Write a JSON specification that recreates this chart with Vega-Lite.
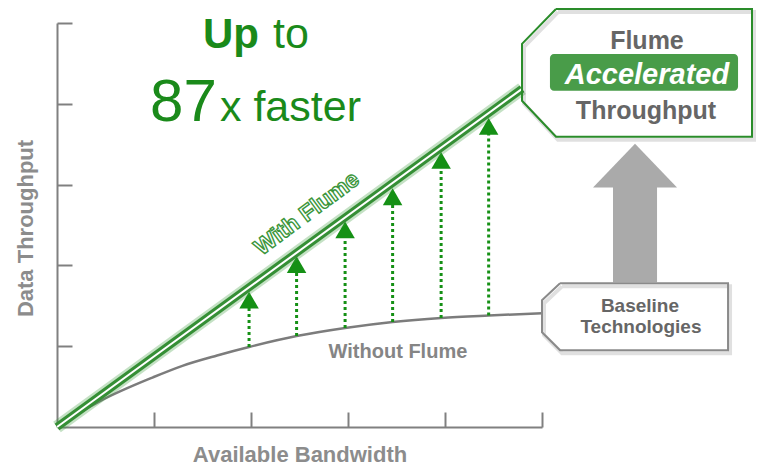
{
  "$schema": "https://vega.github.io/schema/vega-lite/v6.json",
  "width": 485,
  "height": 404,
  "autosize": {"type": "none"},
  "padding": {"left": 57, "top": 23, "right": 216, "bottom": 39},
  "background": "white",
  "datasets": {
    "curve": [
      {"x": 0, "y": 0}, {"x": 0.237, "y": 0.18}, {"x": 0.443, "y": 0.32}, {"x": 0.99, "y": 0.615},
      {"x": 1.3, "y": 0.76}, {"x": 1.65, "y": 0.885}, {"x": 1.98, "y": 0.99}, {"x": 2.47, "y": 1.125},
      {"x": 2.97, "y": 1.225}, {"x": 3.46, "y": 1.3}, {"x": 3.96, "y": 1.35}, {"x": 4.45, "y": 1.38},
      {"x": 5.0, "y": 1.407}
    ],
    "flume": [{"x": 0, "y": 0}, {"x": 4.794, "y": 4.185}],
    "drops": [
      {"x": 1.98, "y": 0.99, "y2": 1.48},
      {"x": 2.47, "y": 1.125, "y2": 1.93},
      {"x": 2.97, "y": 1.225, "y2": 2.37},
      {"x": 3.46, "y": 1.3, "y2": 2.78},
      {"x": 3.96, "y": 1.35, "y2": 3.21},
      {"x": 4.45, "y": 1.38, "y2": 3.64}
    ],
    "tips": [
      {"x": 1.98, "y": 1.57}, {"x": 2.47, "y": 2.01}, {"x": 2.97, "y": 2.44},
      {"x": 3.46, "y": 2.85}, {"x": 3.96, "y": 3.3}, {"x": 4.45, "y": 3.72}
    ],
    "boxA": [
      {"i": 0, "x": 5.144, "y": 5.173}, {"i": 1, "x": 7.165, "y": 5.173}, {"i": 2, "x": 7.165, "y": 3.593},
      {"i": 3, "x": 5.144, "y": 3.593}, {"i": 4, "x": 4.794, "y": 4.037}, {"i": 5, "x": 4.794, "y": 4.741},
      {"i": 6, "x": 5.144, "y": 5.173}
    ],
    "boxB": [
      {"i": 0, "x": 5.186, "y": 1.778}, {"i": 1, "x": 6.918, "y": 1.778}, {"i": 2, "x": 6.918, "y": 0.951},
      {"i": 3, "x": 5.186, "y": 0.951}, {"i": 4, "x": 5.0, "y": 1.173}, {"i": 5, "x": 5.0, "y": 1.568},
      {"i": 6, "x": 5.186, "y": 1.778}
    ],
    "shaft": [{"x": 5.732, "x2": 6.186, "y": 2.99, "y2": 1.79}],
    "head": [
      {"x": 5.526, "y": 2.963, "y2": 2.963},
      {"x": 5.959, "y": 3.506, "y2": 2.963},
      {"x": 6.392, "y": 2.963, "y2": 2.963}
    ],
    "hl": [{"x": 5.082, "x2": 7.021, "y": 4.617, "y2": 4.16}],
    "texts": [
      {"g": "up", "x": 1.505, "y": 4.691, "t": "Up"},
      {"g": "reg", "x": 2.227, "y": 4.691, "t": "to"},
      {"g": "big", "x": 0.959, "y": 3.79, "t": "87"},
      {"g": "reg", "x": 1.68, "y": 3.79, "t": "x faster"},
      {"g": "with", "x": 2.577, "y": 2.642, "t": "With Flume"},
      {"g": "without", "x": 3.515, "y": 0.852, "t": "Without Flume"},
      {"g": "boxa", "x": 6.082, "y": 4.679, "t": "Flume"},
      {"g": "boxa", "x": 6.072, "y": 3.815, "t": "Throughput"},
      {"g": "acc", "x": 6.082, "y": 4.247, "t": "Accelerated"},
      {"g": "boxb", "x": 6.01, "y": 1.42, "t": "Baseline"},
      {"g": "boxb", "x": 6.02, "y": 1.16, "t": "Technologies"}
    ]
  },
  "encoding": {
    "x": {"field": "x", "type": "quantitative", "scale": {"domain": [0, 5], "nice": false, "zero": false}},
    "y": {"field": "y", "type": "quantitative", "scale": {"domain": [0, 5], "nice": false, "zero": false}}
  },
  "layer": [
    {
      "data": {"name": "curve"},
      "mark": {"type": "line", "color": "#7c7c7c", "strokeWidth": 2.5, "interpolate": "monotone"},
      "encoding": {
        "x": {"field": "x", "type": "quantitative", "axis": {
          "title": "Available Bandwidth", "values": [1, 2, 3, 4, 5], "labels": false, "grid": false,
          "domainColor": "#808080", "domainWidth": 2, "tickColor": "#808080", "tickWidth": 2, "tickSize": -15,
          "titleFontSize": 22, "titleFontWeight": "bold", "titleColor": "#8c8c8c", "titleY": 34, "titleBaseline": "alphabetic"
        }},
        "y": {"field": "y", "type": "quantitative", "axis": {
          "title": "Data Throughput", "values": [1, 2, 3, 4, 5], "labels": false, "grid": false,
          "domainColor": "#808080", "domainWidth": 2, "tickColor": "#808080", "tickWidth": 2, "tickSize": -15,
          "titleFontSize": 22, "titleFontWeight": "bold", "titleColor": "#8c8c8c", "titleX": -25, "titleY": 205,
          "titleAngle": -90, "titleBaseline": "alphabetic"
        }}
      }
    },
    {
      "data": {"name": "drops"},
      "mark": {"type": "rule", "color": "#159015", "strokeWidth": 3, "strokeDash": [3, 3]},
      "encoding": {"y2": {"field": "y2"}}
    },
    {
      "data": {"name": "tips"},
      "mark": {"type": "point", "shape": "triangle-up", "filled": true, "size": 380, "color": "#159015", "opacity": 1}
    },
    {
      "data": {"name": "flume"},
      "mark": {"type": "line", "color": "#3c9a3c", "strokeWidth": 13, "opacity": 0.3}
    },
    {
      "data": {"name": "flume"},
      "mark": {"type": "line", "color": "#358f35", "strokeWidth": 8}
    },
    {
      "data": {"name": "flume"},
      "mark": {"type": "line", "color": "white", "strokeWidth": 2}
    },
    {
      "data": {"name": "shaft"},
      "mark": {"type": "rect", "color": "#aaaaaa"},
      "encoding": {"x2": {"field": "x2"}, "y2": {"field": "y2"}}
    },
    {
      "data": {"name": "head"},
      "mark": {"type": "area", "color": "#aaaaaa", "interpolate": "linear", "orient": "vertical"},
      "encoding": {"y2": {"field": "y2"}}
    },
    {
      "data": {"name": "boxA"},
      "mark": {"type": "line", "color": "#000000", "strokeWidth": 4, "opacity": 0.12, "xOffset": 2, "yOffset": 3},
      "encoding": {"order": {"field": "i"}}
    },
    {
      "data": {"name": "boxB"},
      "mark": {"type": "line", "color": "#000000", "strokeWidth": 4, "opacity": 0.12, "xOffset": 2, "yOffset": 3},
      "encoding": {"order": {"field": "i"}}
    },
    {
      "data": {"name": "boxA"},
      "mark": {"type": "line", "color": "#2a8c2a", "strokeWidth": 2},
      "encoding": {"order": {"field": "i"}}
    },
    {
      "data": {"name": "boxB"},
      "mark": {"type": "line", "color": "#8a8a8a", "strokeWidth": 2},
      "encoding": {"order": {"field": "i"}}
    },
    {
      "data": {"name": "hl"},
      "mark": {"type": "rect", "color": "#3a943a", "cornerRadius": 4, "opacity": 0.92},
      "encoding": {"x2": {"field": "x2"}, "y2": {"field": "y2"}}
    },
    {
      "data": {"name": "texts"},
      "transform": [{"filter": "datum.g == 'up'"}],
      "mark": {"type": "text", "align": "left", "baseline": "alphabetic", "font": "Liberation Sans", "fontSize": 42, "fontWeight": "bold", "color": "#1a8a1a"},
      "encoding": {"text": {"field": "t"}}
    },
    {
      "data": {"name": "texts"},
      "transform": [{"filter": "datum.g == 'reg'"}],
      "mark": {"type": "text", "align": "left", "baseline": "alphabetic", "font": "Liberation Sans", "fontSize": 43, "color": "#1a8a1a"},
      "encoding": {"text": {"field": "t"}}
    },
    {
      "data": {"name": "texts"},
      "transform": [{"filter": "datum.g == 'big'"}],
      "mark": {"type": "text", "align": "left", "baseline": "alphabetic", "font": "Liberation Sans", "fontSize": 60, "color": "#1a8a1a"},
      "encoding": {"text": {"field": "t"}}
    },
    {
      "data": {"name": "texts"},
      "transform": [{"filter": "datum.g == 'with'"}],
      "mark": {"type": "text", "align": "center", "baseline": "middle", "font": "Liberation Sans", "fontSize": 23, "fontWeight": "bold", "angle": -36.5, "color": "white", "stroke": "#3c963c", "strokeWidth": 1.4},
      "encoding": {"text": {"field": "t"}}
    },
    {
      "data": {"name": "texts"},
      "transform": [{"filter": "datum.g == 'without'"}],
      "mark": {"type": "text", "align": "center", "baseline": "alphabetic", "font": "Liberation Sans", "fontSize": 20, "fontWeight": "bold", "color": "#858585"},
      "encoding": {"text": {"field": "t"}}
    },
    {
      "data": {"name": "texts"},
      "transform": [{"filter": "datum.g == 'boxa'"}],
      "mark": {"type": "text", "align": "center", "baseline": "alphabetic", "font": "Liberation Sans", "fontSize": 25, "fontWeight": "bold", "color": "#666666"},
      "encoding": {"text": {"field": "t"}}
    },
    {
      "data": {"name": "texts"},
      "transform": [{"filter": "datum.g == 'acc'"}],
      "mark": {"type": "text", "align": "center", "baseline": "alphabetic", "font": "Liberation Sans", "fontSize": 29, "fontWeight": "bold", "fontStyle": "italic", "color": "white"},
      "encoding": {"text": {"field": "t"}}
    },
    {
      "data": {"name": "texts"},
      "transform": [{"filter": "datum.g == 'boxb'"}],
      "mark": {"type": "text", "align": "center", "baseline": "alphabetic", "font": "Liberation Sans", "fontSize": 19, "fontWeight": "bold", "color": "#666666"},
      "encoding": {"text": {"field": "t"}}
    }
  ],
  "config": {"view": {"stroke": null}}
}
